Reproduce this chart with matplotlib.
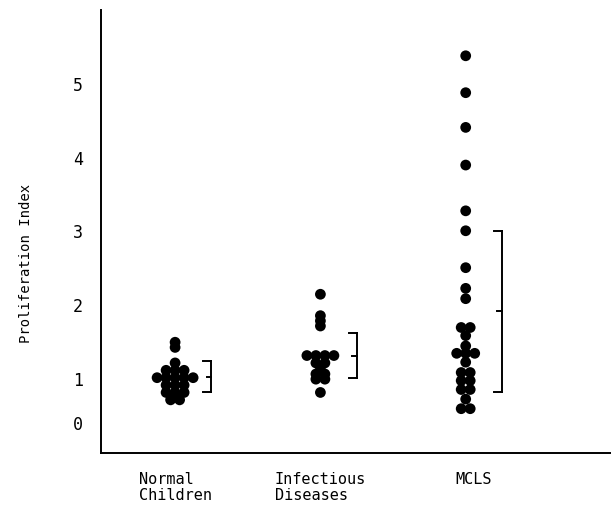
import numpy as np
import matplotlib
matplotlib.use("Agg")
import matplotlib.pyplot as plt
from matplotlib.transforms import ScaledTranslation

# ---- data ----
categories = ["Normal\nChildren", "Infectious\nDiseases", "MCLS"]
normal = [1.50, 1.43, 1.22, 1.12, 1.12, 1.12, 1.02, 1.02, 1.02, 1.02, 1.02,
          0.92, 0.92, 0.92, 0.82, 0.82, 0.82, 0.72, 0.72]
infectious = [2.15, 1.86, 1.79, 1.72, 1.32, 1.32, 1.32, 1.32, 1.22, 1.22,
              1.13, 1.07, 1.07, 1.00, 1.00, 0.82]
mcls = [5.38, 4.88, 4.41, 3.90, 3.28, 3.01, 2.51, 2.23, 2.09, 1.70, 1.70,
        1.59, 1.45, 1.35, 1.35, 1.35, 1.23, 1.09, 1.09, 0.98, 0.98, 0.86,
        0.86, 0.73, 0.60, 0.60]
group_means = [1.03, 1.32, 1.92]
group_sds = [0.21, 0.31, 1.09]
ytick_vals = [0, 1, 2, 3, 4, 5]
ytick_labels = ["0", "1", "2", "3", "4", "5"]

groups = [normal, infectious, mcls]
positions = np.arange(1, len(categories) + 1)

fig = plt.figure(figsize=(6.11, 5.05), dpi=100)
ax = fig.add_axes([101 / 611, 52 / 505, 510 / 611, 443 / 505])

step = 0.062
for pos, vals in zip(positions, groups):
    vals = np.asarray(vals)
    xs = np.empty_like(vals)
    for v in np.unique(vals):
        idx = np.where(vals == v)[0]
        n = len(idx)
        xs[idx] = pos + (np.arange(n) - (n - 1) / 2) * step
    ax.scatter(xs, vals, s=60, color="black", edgecolors="none", zorder=3)

# mean +/- SD brackets
bx_off = 0.25
cap = 0.055
for pos, m, sd in zip(positions, group_means, group_sds):
    bx = pos + bx_off
    ax.plot([bx, bx], [m - sd, m + sd], color="black", lw=1.4)
    ax.plot([bx - cap, bx], [m + sd, m + sd], color="black", lw=1.4)
    ax.plot([bx - cap, bx], [m - sd, m - sd], color="black", lw=1.4)
    ax.plot([bx - cap * 0.6, bx], [m, m], color="black", lw=1.4)

ax.set_xlim(0.49, 4.0)
ax.set_ylim(0, 6.0)
for side in ["top", "right"]:
    ax.spines[side].set_visible(False)
for side in ["left", "bottom"]:
    ax.spines[side].set_linewidth(1.4)

mono = "DejaVu Sans Mono"
ax.set_yticks(ytick_vals)
ax.set_yticklabels(ytick_labels, fontsize=12, family=mono)
ax.tick_params(axis="y", length=0, pad=13)
lab0 = ax.get_yticklabels()[0]
lab0.set_transform(lab0.get_transform() + ScaledTranslation(0, 0.30, fig.dpi_scale_trans))

ax.set_xticks(positions)
ax.set_xticklabels(categories, fontsize=11, family=mono, multialignment="left",
                   linespacing=1.05)
ax.tick_params(axis="x", length=0, pad=14)
labm = ax.get_xticklabels()[2]
labm.set_transform(labm.get_transform() + ScaledTranslation(0.08, 0, fig.dpi_scale_trans))

fig.text(26 / 611, 1 - 263 / 505, "Proliferation Index", rotation=90,
         ha="center", va="center", fontsize=10, family=mono)

fig.savefig("out.png", dpi=100)
